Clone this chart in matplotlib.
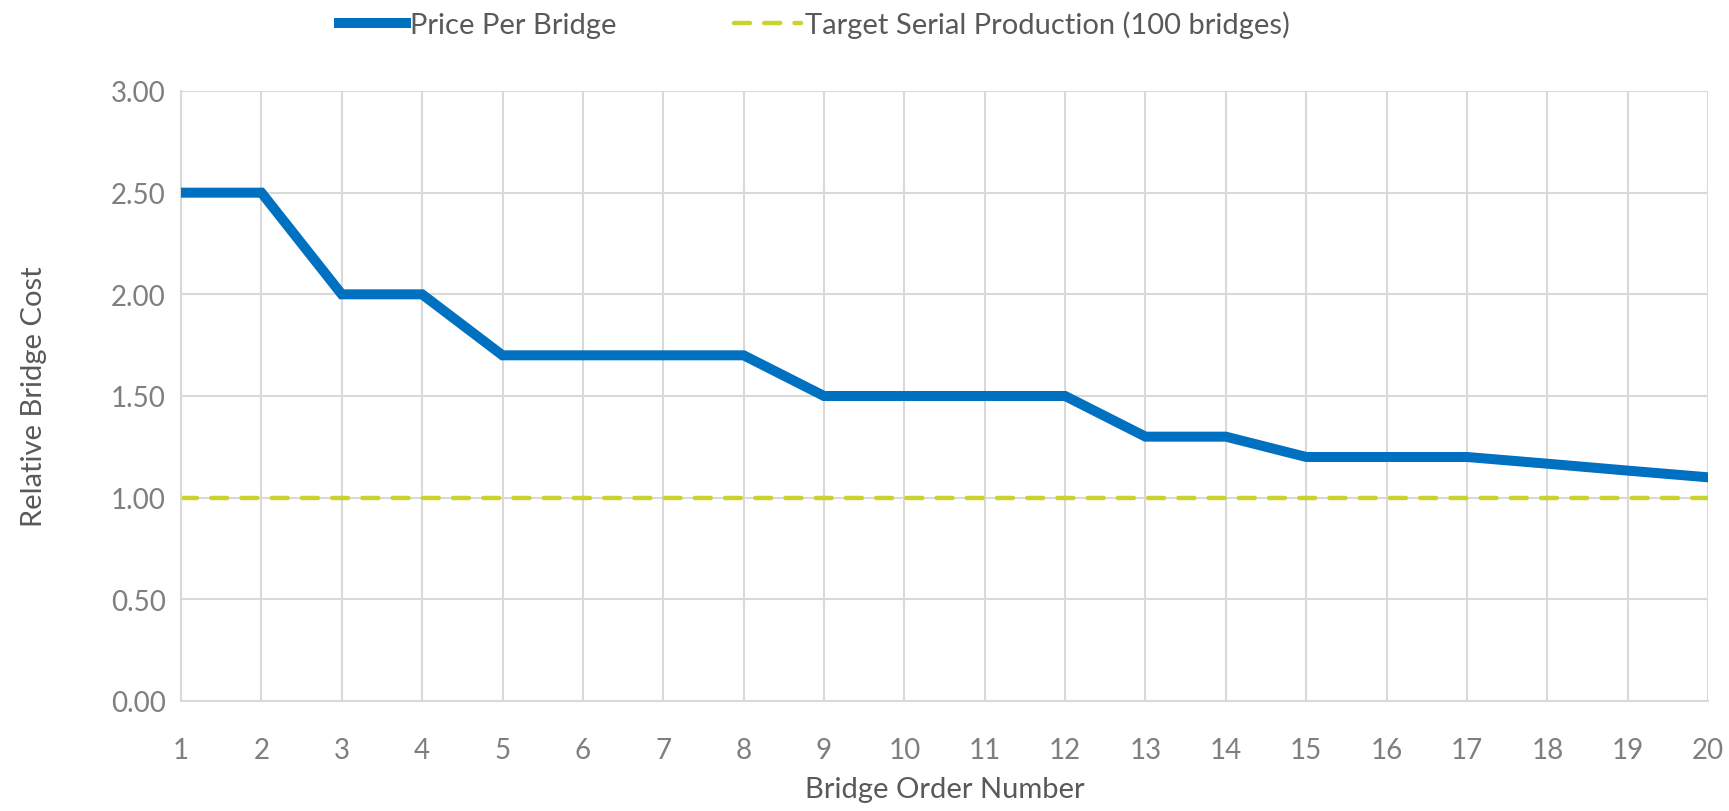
import matplotlib.pyplot as plt
import numpy as np

# chart data
order_numbers = list(range(1, 21))
price_per_bridge = [2.50, 2.50, 2.00, 2.00, 1.70, 1.70, 1.70, 1.70, 1.50, 1.50,
                    1.50, 1.50, 1.30, 1.30, 1.20, 1.20, 1.20, 1.167, 1.133, 1.10]
target_serial = [1.00] * 20
y_ticks = [0.0, 0.5, 1.0, 1.5, 2.0, 2.5, 3.0]

plt.rcParams['font.family'] = ['Lato', 'DejaVu Sans']

fig = plt.figure(figsize=(17.29, 8.12), dpi=100)
ax = fig.add_axes([0.1047, 0.1355, 0.8832, 0.7512])

ax.plot(order_numbers, price_per_bridge, color='#0070C0', lw=7.2,
        solid_joinstyle='miter', label='Price Per Bridge', zorder=3)
ax.plot(order_numbers, target_serial, color='#C9D32C', lw=3.2,
        dashes=(3.6, 3.2), dash_capstyle='round', label='Target Serial Production (100 bridges)', zorder=2)

ax.set_xlim(1, 20)
ax.set_ylim(0, 3)
ax.set_xticks(order_numbers)
ax.set_yticks(y_ticks)
ax.set_yticklabels(['{:.2f}'.format(v) for v in y_ticks])
ax.grid(True, color='#D9D9D9', lw=1.5)
ax.set_axisbelow(True)
for s in ax.spines.values():
    s.set_color('#D9D9D9')
    s.set_linewidth(1.5)
ax.spines['top'].set_visible(False)
ax.spines['right'].set_visible(False)

ax.tick_params(axis='both', length=0, labelsize=20, labelcolor='#7F7F7F')
ax.tick_params(axis='x', pad=26)
ax.tick_params(axis='y', pad=11)

ax.set_xlabel('Bridge Order Number', fontsize=21, color='#595959')
ax.set_ylabel('Relative Bridge Cost', fontsize=21, color='#595959')
ax.xaxis.set_label_coords(0.5, -0.123)
ax.yaxis.set_label_coords(-0.088, 0.5)

fig.legend(loc='upper center', bbox_to_anchor=(0.471, 1.018), ncol=2, frameon=False,
           fontsize=21, labelcolor='#595959', handlelength=2.3, handletextpad=0.15,
           columnspacing=4.0)

fig.savefig('out.png', dpi=100)
